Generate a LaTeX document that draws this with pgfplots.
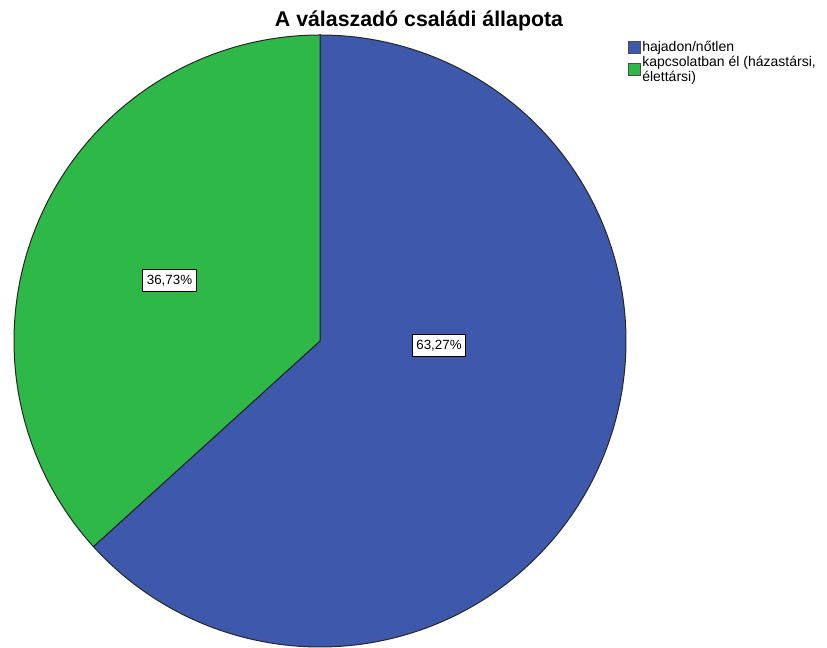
\documentclass[border=0pt]{standalone}
\usepackage{pgfplots}
\pgfplotsset{compat=1.18}
\usepackage{pgfplotstable}
\usepackage{fontspec}
\setmainfont{Liberation Sans}
\definecolor{spssblue}{RGB}{62,88,172}
\definecolor{spssgreen}{RGB}{46,184,72}
\pgfplotstableread{
cat value
1 63.27
2 36.73
}\piedata
\begin{document}%
\pgfplotstablegetelem{0}{value}\of\piedata%
\pgfmathsetmacro{\va}{\pgfplotsretval}%
\pgfmathsetmacro{\angA}{90-3.6*\va}%
\pgfmathsetmacro{\angB}{\angA+360}%
\begin{tikzpicture}
\begin{axis}[
 width=620.25pt, height=486pt, scale only axis,
 xmin=0,xmax=827,ymin=-648,ymax=0,
 hide axis, clip=false,
 legend style={at={(axis cs:624,-37)}, anchor=north west, draw=none, fill=none,
   font=\fontsize{10.5}{9.5}\selectfont, cells={anchor=west},
   nodes={align=left, inner sep=1pt}, row sep=0pt},
 legend image code/.code={\draw[#1, draw=black!70, line width=0.5pt] (0pt,-4.5pt) rectangle (9pt,4.5pt);},
]
\coordinate (bl) at (axis cs:0,-648);
\coordinate (tr) at (axis cs:827,0);
\addplot[fill=spssblue, draw=black!85, line width=0.75pt, domain=\angA:90, samples=240, variable=\t]
  ({320+306*cos(\t)},{-341+306*sin(\t)}) -- (axis cs:320,-341) -- cycle;
\addlegendentry{hajadon/nőtlen}
\addplot[fill=spssgreen, draw=black!85, line width=0.75pt, domain=90:\angB, samples=140, variable=\t]
  ({320+306*cos(\t)},{-341+306*sin(\t)}) -- (axis cs:320,-341) -- cycle;
\addlegendentry{kapcsolatban él (házastársi,\\élettársi)}
\node[font=\fontsize{16}{19}\selectfont\bfseries, anchor=base] at (axis cs:419,-27) {A válaszadó családi állapota};
\node[draw=black, fill=white, line width=0.6pt, font=\fontsize{10}{12}\selectfont, inner xsep=3pt, minimum height=17pt] at (axis cs:169.5,-280.5) {36,73\%};
\node[draw=black, fill=white, line width=0.6pt, font=\fontsize{10}{12}\selectfont, inner xsep=3pt, minimum height=17pt] at (axis cs:439,-345.5) {63,27\%};
\end{axis}
\pgfresetboundingbox
\path[use as bounding box] (bl) rectangle (tr);
\end{tikzpicture}%
\end{document}
